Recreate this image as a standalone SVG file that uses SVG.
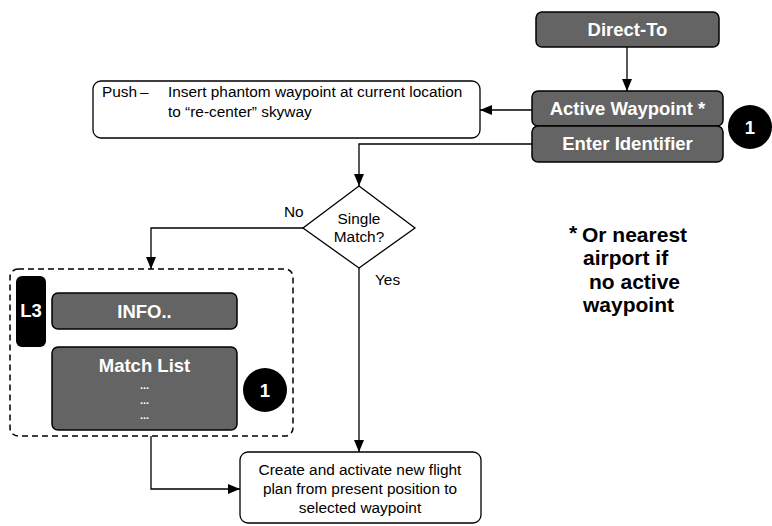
<svg xmlns="http://www.w3.org/2000/svg" width="772" height="526" viewBox="0 0 772 526">
<style>
.dk{fill:#646464;stroke:#000;stroke-width:1.5}
.wb{fill:#fff;stroke:#000;stroke-width:1.3}
.bt{font-family:"Liberation Sans",Arial,sans-serif;font-weight:bold;font-size:18.5px;fill:#fff;text-anchor:middle}
.dots{font-family:"Liberation Sans",Arial,sans-serif;font-weight:bold;font-size:11px;fill:#fff;text-anchor:middle}
.nt{font-family:"Liberation Sans",Arial,sans-serif;font-size:15.4px;fill:#000}
.ln{fill:none;stroke:#000;stroke-width:1.3}
.badge{fill:#000}
.note{font-family:"Liberation Sans",Arial,sans-serif;font-weight:bold;font-size:21px;fill:#000}
</style>
<defs>
<marker id="ah" markerWidth="12" markerHeight="10" refX="12" refY="5" orient="auto" markerUnits="userSpaceOnUse">
<path d="M0,0 L12,5 L0,10 Z" fill="#000"/>
</marker>
</defs>
<rect width="772" height="526" fill="#fff"/>

<g id="connectors">
<line class="ln" x1="627" y1="47" x2="627" y2="91" marker-end="url(#ah)"/>
<line class="ln" x1="532" y1="110" x2="480" y2="110" marker-end="url(#ah)"/>
<polyline class="ln" points="532,144 359,144 359,186" marker-end="url(#ah)"/>
<polyline class="ln" points="303,228 151,228 151,269" marker-end="url(#ah)"/>
<line class="ln" x1="359" y1="268" x2="359" y2="452" marker-end="url(#ah)"/>
<polyline class="ln" points="151,436 151,489 240,489" marker-end="url(#ah)"/>
<text class="nt" x="284" y="217">No</text>
<text class="nt" x="375" y="285">Yes</text>
</g>

<g id="direct-to">
<rect class="dk" x="536" y="12" width="183" height="35" rx="6"/>
<text class="bt" x="627.5" y="36">Direct-To</text>
</g>

<g id="active-waypoint">
<rect class="dk" x="532" y="91" width="191" height="35" rx="6"/>
<text class="bt" x="627.5" y="115">Active Waypoint *</text>
</g>

<g id="enter-identifier">
<rect class="dk" x="532" y="126" width="191" height="36" rx="6"/>
<text class="bt" x="627.5" y="150">Enter Identifier</text>
</g>

<g id="badge-top">
<circle class="badge" cx="750" cy="127" r="22"/>
<text class="bt" x="750" y="134" font-size="20">1</text>
</g>

<g id="push">
<rect class="wb" x="93" y="81" width="387" height="57" rx="8"/>
<text class="nt" x="102" y="97">Push</text>
<text class="nt" x="140" y="97">–</text>
<text class="nt" x="168" y="97">Insert phantom waypoint at current location</text>
<text class="nt" x="168" y="117">to “re-center” skyway</text>
</g>

<g id="single-match">
<polygon class="wb" points="359,186 415,228 359,268 303,228"/>
<text class="nt" x="359" y="224" text-anchor="middle">Single</text>
<text class="nt" x="359" y="242" text-anchor="middle">Match?</text>
</g>

<g id="match-group">
<rect x="10" y="269" width="283" height="167" rx="8" fill="none" stroke="#000" stroke-width="1.5" stroke-dasharray="6,4"/>
</g>

<g id="l3">
<rect x="16" y="276" width="30" height="71" rx="6" fill="#000"/>
<text class="bt" x="31" y="317" font-size="21">L3</text>
</g>

<g id="info">
<rect class="dk" x="52" y="293" width="185" height="36" rx="6"/>
<text class="bt" x="144.5" y="318">INFO..</text>
</g>

<g id="match-list">
<rect class="dk" x="52" y="347" width="185" height="83" rx="6"/>
<text class="bt" x="144.5" y="372">Match List</text>
<text class="dots" x="144.5" y="389">...</text>
<text class="dots" x="144.5" y="404">...</text>
<text class="dots" x="144.5" y="419">...</text>
</g>

<g id="badge-list">
<circle class="badge" cx="265" cy="390" r="22"/>
<text class="bt" x="265" y="397" font-size="20">1</text>
</g>

<g id="create">
<rect class="wb" x="240" y="452" width="241" height="71" rx="8"/>
<text class="nt" x="360" y="475" text-anchor="middle">Create and activate new flight</text>
<text class="nt" x="360" y="494" text-anchor="middle">plan from present position to</text>
<text class="nt" x="360" y="513" text-anchor="middle">selected waypoint</text>
</g>

<g id="note">
<text class="note" x="569" y="240" font-weight="normal" font-size="17">*</text>
<text class="note" x="582" y="242">Or nearest</text>
<text class="note" x="583" y="265">airport if</text>
<text class="note" x="589" y="289">no active</text>
<text class="note" x="583" y="312">waypoint</text>
</g>
</svg>
